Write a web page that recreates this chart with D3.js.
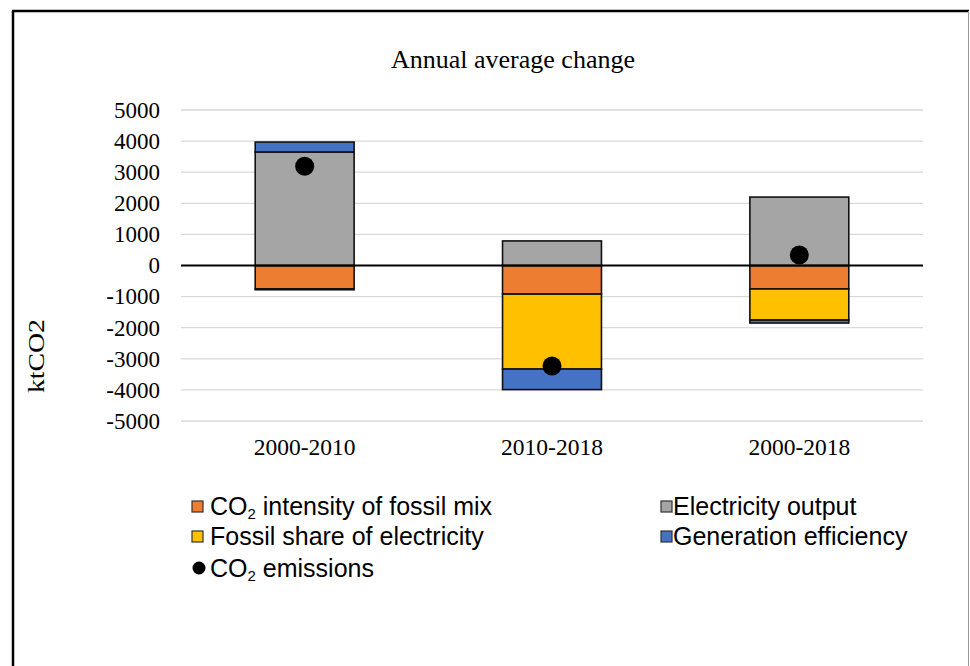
<!DOCTYPE html>
<html>
<head>
<meta charset="utf-8">
<script src="https://cdn.jsdelivr.net/npm/d3@7"></script>
<style>
  body { margin: 0; background: #fff; }
</style>
</head>
<body>
<script>
const periods = ['2000-2010', '2010-2018', '2000-2018'];
const intensity = [-750, -920, -755];
const fossilShare = [-30, -2410, -1000];
const output = [3650, 790, 2200];
const efficiency = [320, -660, -95];
const emissions = [3190, -3230, 340];
const yTicks = [5000, 4000, 3000, 2000, 1000, 0, -1000, -2000, -3000, -4000, -5000];

const seriesKeys = ['intensity', 'fossilShare', 'output', 'efficiency'];
const colors = {
    intensity: '#ed7d31',
    fossilShare: '#ffc000',
    output: '#a5a5a5',
    efficiency: '#4472c4'
};

const table = periods.map((p, i) => ({
    period: p,
    intensity: intensity[i],
    fossilShare: fossilShare[i],
    output: output[i],
    efficiency: efficiency[i],
    emissions: emissions[i]
}));

const width = 970;
const height = 666;
const serif = '"Liberation Serif", "Times New Roman", serif';
const sans = '"Liberation Sans", Arial, sans-serif';

const svg = d3.select('body').append('svg')
    .attr('width', width)
    .attr('height', height);

// frame
svg.append('line').attr('x1', 13).attr('x2', 13).attr('y1', 11).attr('y2', height)
    .attr('stroke', '#000').attr('stroke-width', 2.5);
svg.append('line').attr('x1', 12).attr('x2', 969).attr('y1', 11).attr('y2', 11)
    .attr('stroke', '#000').attr('stroke-width', 2.5);
svg.append('line').attr('x1', 968.5).attr('x2', 968.5).attr('y1', 11).attr('y2', height)
    .attr('stroke', '#999').attr('stroke-width', 1);

const x = d3.scaleBand()
    .domain(periods)
    .range([181, 923])
    .paddingInner(0.6)
    .paddingOuter(0.3);

const y = d3.scaleLinear()
    .domain([-5000, 5000])
    .range([421, 110]);

// gridlines
svg.append('g')
    .selectAll('line')
    .data(yTicks.filter(d => d !== 0))
    .enter().append('line')
    .attr('x1', 181)
    .attr('x2', 923)
    .attr('y1', d => y(d))
    .attr('y2', d => y(d))
    .attr('stroke', '#d9d9d9')
    .attr('stroke-width', 1.3);

// y axis labels
const yAxis = d3.axisLeft(y)
    .tickValues(yTicks)
    .tickFormat(d => String(d))
    .tickSize(0)
    .tickPadding(0);
const gy = svg.append('g')
    .attr('transform', 'translate(160,0)')
    .call(yAxis);
gy.select('.domain').remove();
gy.selectAll('text')
    .attr('font-family', serif)
    .attr('font-size', 23)
    .attr('fill', '#000');

// stacked bars
const stack = d3.stack().keys(seriesKeys).offset(d3.stackOffsetDiverging);
const layers = stack(table);

svg.append('g')
    .selectAll('g')
    .data(layers)
    .enter().append('g')
    .attr('fill', d => colors[d.key])
    .selectAll('rect')
    .data(d => d)
    .enter().append('rect')
    .attr('x', d => x(d.data.period))
    .attr('width', x.bandwidth())
    .attr('y', d => y(Math.max(d[0], d[1])))
    .attr('height', d => Math.abs(y(d[0]) - y(d[1])))
    .attr('stroke', '#111')
    .attr('stroke-width', 1.6);

// zero line
svg.append('line')
    .attr('x1', 181).attr('x2', 923)
    .attr('y1', y(0)).attr('y2', y(0))
    .attr('stroke', '#000')
    .attr('stroke-width', 2);

// emissions dots
svg.append('g')
    .selectAll('circle')
    .data(table)
    .enter().append('circle')
    .attr('cx', d => x(d.period) + x.bandwidth() / 2)
    .attr('cy', d => y(d.emissions))
    .attr('r', 9.5)
    .attr('fill', '#000');

// category labels
const xAxis = d3.axisBottom(x).tickSize(0).tickPadding(0);
const gx = svg.append('g')
    .attr('transform', 'translate(0,433)')
    .call(xAxis);
gx.select('.domain').remove();
gx.selectAll('text')
    .attr('font-family', serif)
    .attr('font-size', 23.5)
    .attr('fill', '#000')
    .attr('dy', '0.95em');

// title
svg.append('text')
    .attr('x', 513)
    .attr('y', 68)
    .attr('text-anchor', 'middle')
    .attr('font-family', serif)
    .attr('font-size', 26)
    .text('Annual average change');

// y title
svg.append('text')
    .attr('transform', 'translate(44,356) rotate(-90)')
    .attr('text-anchor', 'middle')
    .attr('font-family', serif)
    .attr('font-size', 24)
    .attr('textLength', 74)
    .attr('lengthAdjust', 'spacingAndGlyphs')
    .text('ktCO2');

// legend
const legendItems = [
    { key: 'intensity', x: 192, tx: 210, y: 507, label: ['CO', '2', ' intensity of fossil mix'] },
    { key: 'output', x: 661, tx: 673, y: 507, label: ['Electricity output'] },
    { key: 'fossilShare', x: 192, tx: 210, y: 537, label: ['Fossil share of electricity'] },
    { key: 'efficiency', x: 661, tx: 673, y: 537, label: ['Generation efficiency'] }
];

const lg = svg.append('g');
legendItems.forEach(item => {
    lg.append('rect')
        .attr('x', item.x)
        .attr('y', item.y - 6)
        .attr('width', 11)
        .attr('height', 11)
        .attr('fill', colors[item.key])
        .attr('stroke', '#333')
        .attr('stroke-width', 1.2);
    const t = lg.append('text')
        .attr('x', item.tx)
        .attr('y', item.y + 8)
        .attr('font-family', sans)
        .attr('font-size', 25);
    if (item.label.length === 3) {
        t.append('tspan').text(item.label[0]);
        t.append('tspan').attr('font-size', 15).attr('dy', 4).text(item.label[1]);
        t.append('tspan').attr('dy', -4).text(item.label[2]);
    } else {
        t.text(item.label[0]);
    }
});

lg.append('circle')
    .attr('cx', 199)
    .attr('cy', 568)
    .attr('r', 6.5)
    .attr('fill', '#000');
const et = lg.append('text')
    .attr('x', 210)
    .attr('y', 577)
    .attr('font-family', sans)
    .attr('font-size', 25);
et.append('tspan').text('CO');
et.append('tspan').attr('font-size', 15).attr('dy', 4).text('2');
et.append('tspan').attr('dy', -4).text(' emissions');
</script>
</body>
</html>
